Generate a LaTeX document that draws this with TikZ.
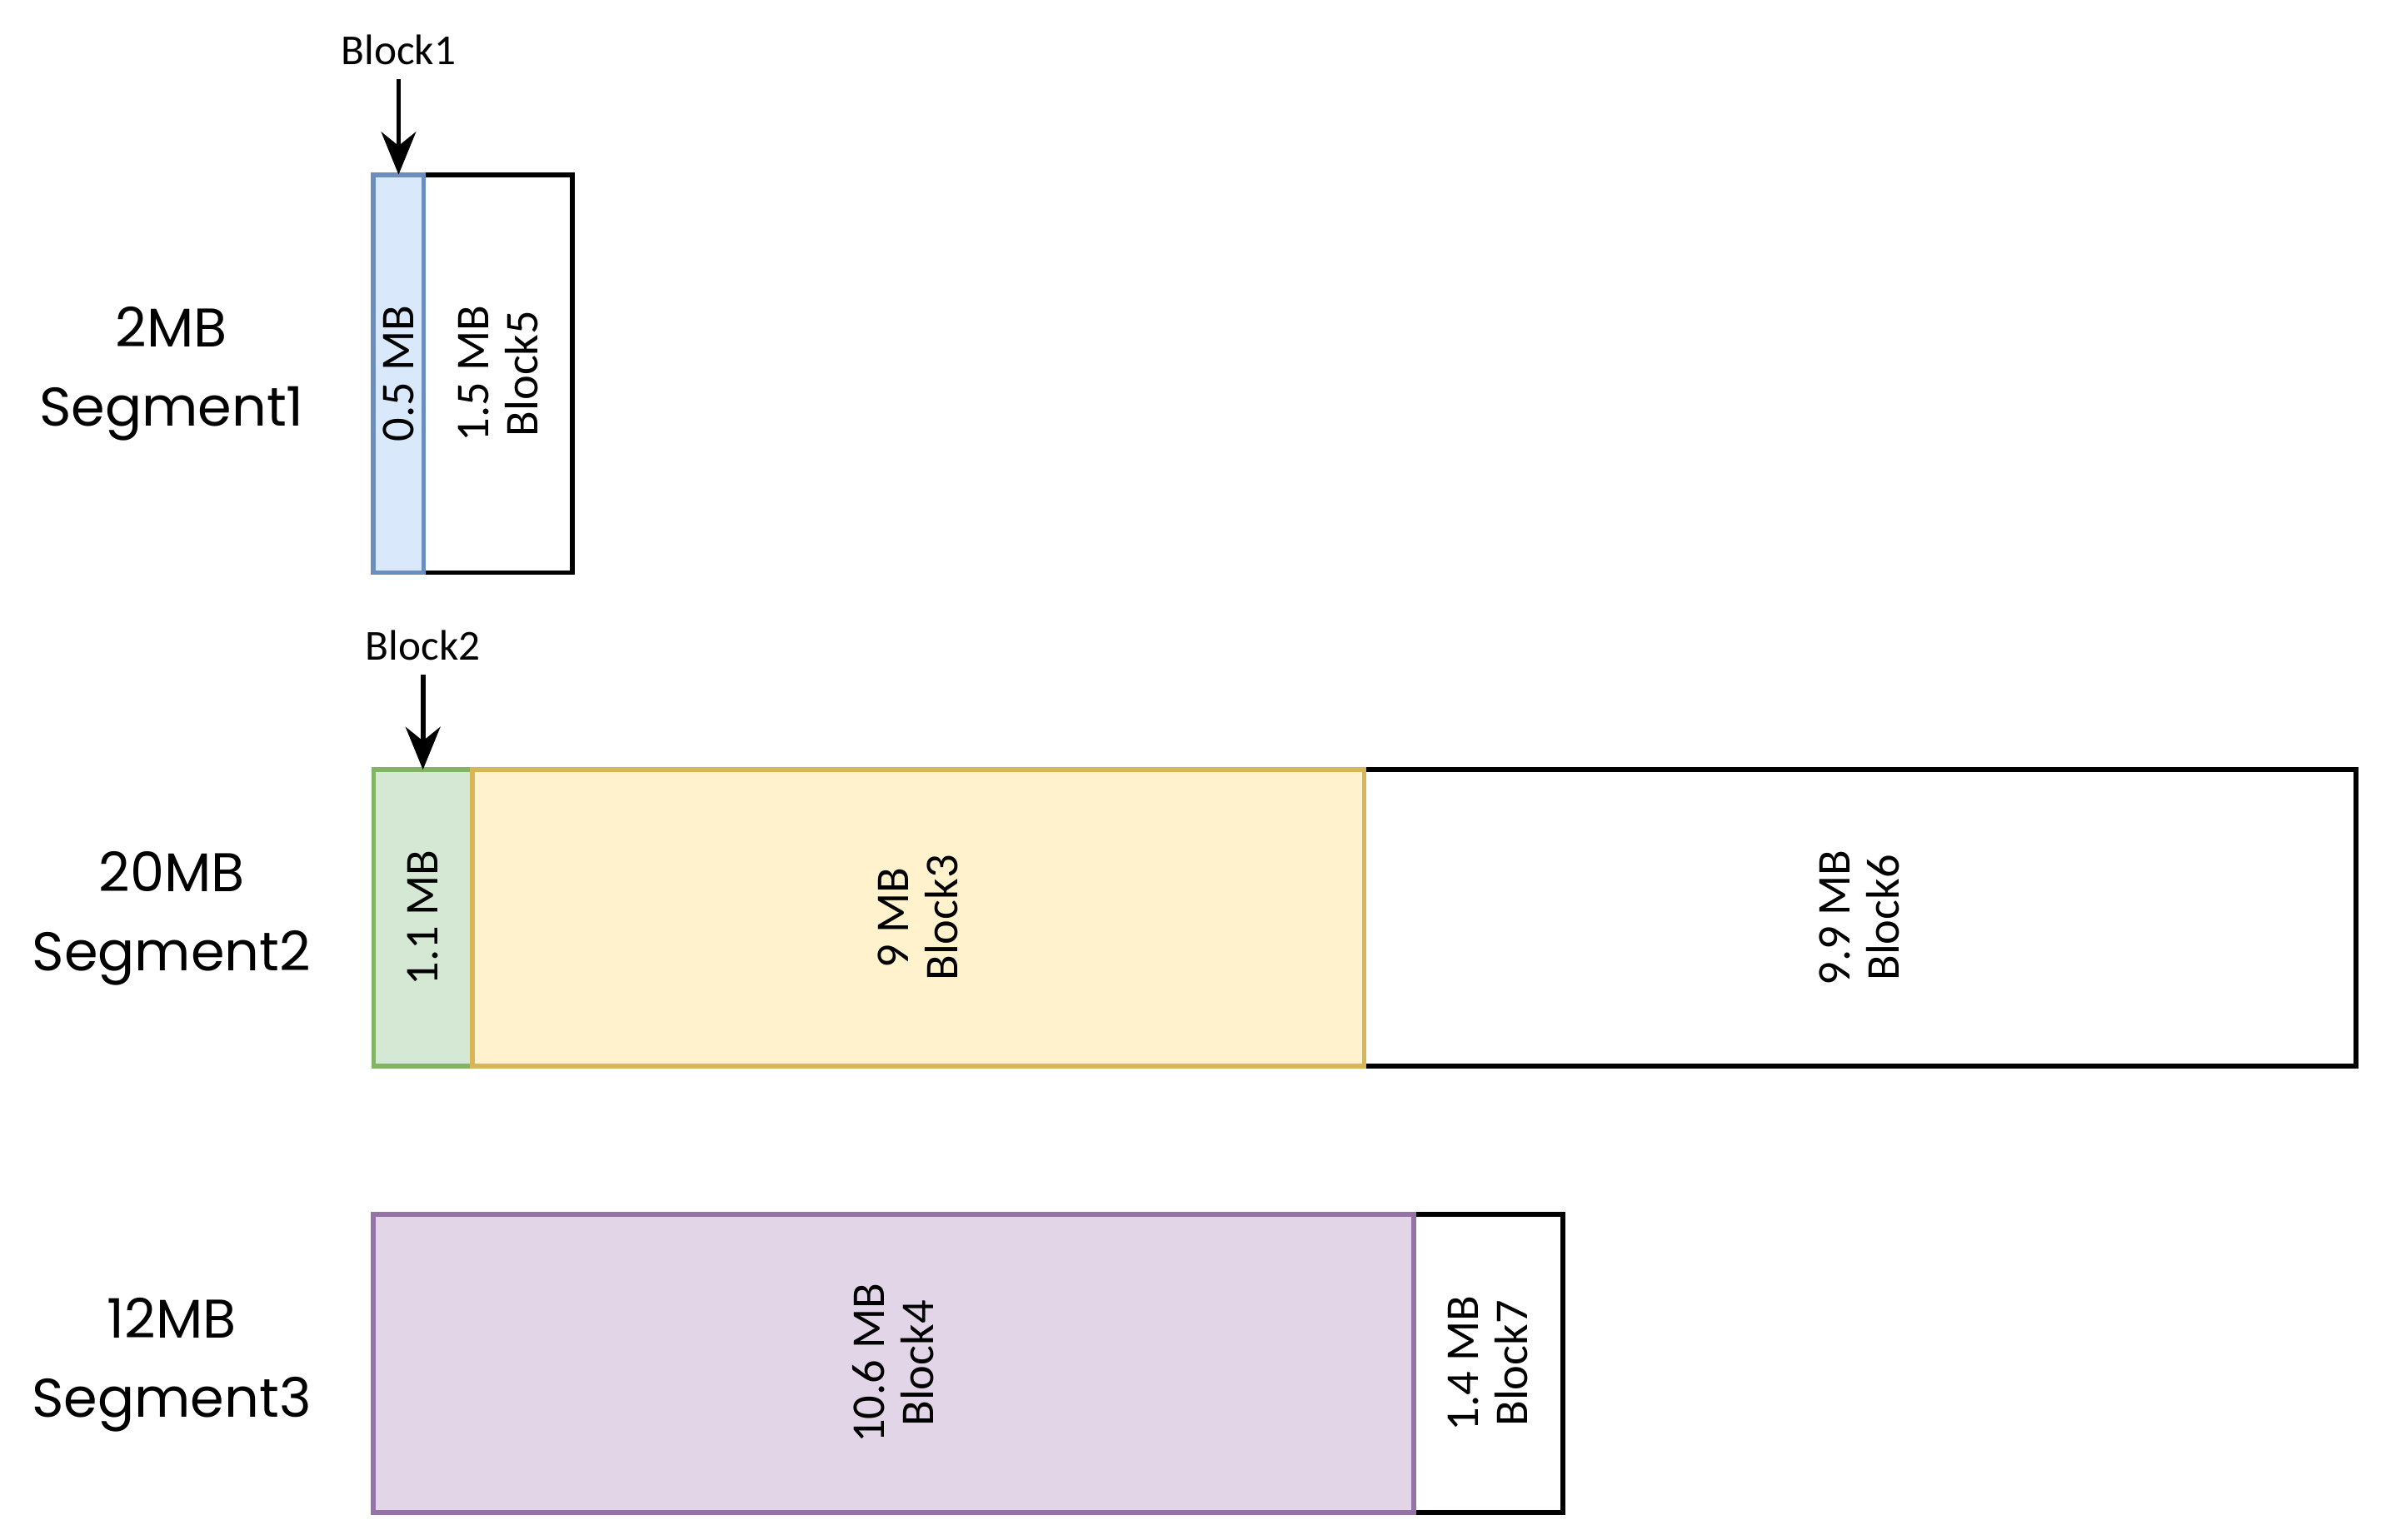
\documentclass[tikz,border=0pt]{standalone}
\usepackage{fontspec}
\setmainfont{Carlito}
\newfontfamily\segfont{Poppins}
\usetikzlibrary{positioning,calc,arrows.meta}

\definecolor{blueFill}{HTML}{DAE8FC}
\definecolor{blueLine}{HTML}{6C8EBF}
\definecolor{greenFill}{HTML}{D5E8D4}
\definecolor{greenLine}{HTML}{82B366}
\definecolor{yellowFill}{HTML}{FFF2CC}
\definecolor{yellowLine}{HTML}{D6B656}
\definecolor{purpleFill}{HTML}{E1D5E7}
\definecolor{purpleLine}{HTML}{9673A6}

\begin{document}
\begin{tikzpicture}[
        x=0.01cm, y=-0.01cm,
        block/.style={draw, outer sep=0pt, inner sep=0pt, line width=0.9pt},
        blocktext/.style={rotate=90, align=center, font=\fontsize{8.8}{9.2}\selectfont},
        seglabel/.style={align=center, font=\segfont\fontsize{10.2}{14.8}\selectfont},
        ptrlabel/.style={font=\fontsize{8}{9}\selectfont, inner sep=1pt},
        ptr/.style={-{Stealth[length=8pt, width=6.5pt]}, line width=0.9pt, shorten <=1.5pt}
    ]
    \useasboundingbox (0,0) rectangle (1568,1014);

    % Segment1
    \node[seglabel] (seg1) at (113,246) {2MB\\Segment1};
    \node[block, minimum width=0.98cm, minimum height=2.62cm, anchor=north west] (blk5) at (279,115) {};
    \node[block, fill=blueFill, draw=blueLine, minimum width=0.33cm, minimum height=2.62cm, left=0pt of blk5] (blk1) {};
    \node[blocktext] (txt1) at (blk1) {0.5 MB};
    \node[blocktext] (txt5) at (blk5) {1.5 MB\\Block5};

    \node[ptrlabel, above=0.68cm of blk1] (lbl1) {Block1};
    \draw[ptr] (lbl1.south) -- (blk1.north);

    % Segment2
    \node[seglabel] (seg2) at (113,605) {20MB\\Segment2};
    \node[block, minimum width=6.53cm, minimum height=1.95cm, anchor=north west] (blk6) at (898,507) {};
    \node[block, fill=greenFill, draw=greenLine, minimum width=0.65cm, minimum height=1.95cm, anchor=north west] (blk2) at (246,507) {};
    \node[block, fill=yellowFill, draw=yellowLine, minimum width=5.87cm, minimum height=1.95cm, right=0pt of blk2] (blk3) {};
    \node[blocktext] (txt2) at (blk2) {1.1 MB};
    \node[blocktext] (txt3) at (blk3) {9 MB\\Block3};
    \node[blocktext] (txt6) at (blk6) {9.9 MB\\Block6};

    \node[ptrlabel, above=0.68cm of blk2] (lbl2) {Block2};
    \draw[ptr] (lbl2.south) -- (blk2.north);

    % Segment3
    \node[seglabel] (seg3) at (113,899) {12MB\\Segment3};
    \node[block, minimum width=0.98cm, minimum height=1.96cm, anchor=north west] (blk7) at (931,800) {};
    \node[block, fill=purpleFill, draw=purpleLine, minimum width=6.85cm, minimum height=1.96cm, left=0pt of blk7] (blk4) {};
    \node[blocktext] (txt4) at (blk4) {10.6 MB\\Block4};
    \node[blocktext] (txt7) at (blk7) {1.4 MB\\Block7};

\end{tikzpicture}
\end{document}
